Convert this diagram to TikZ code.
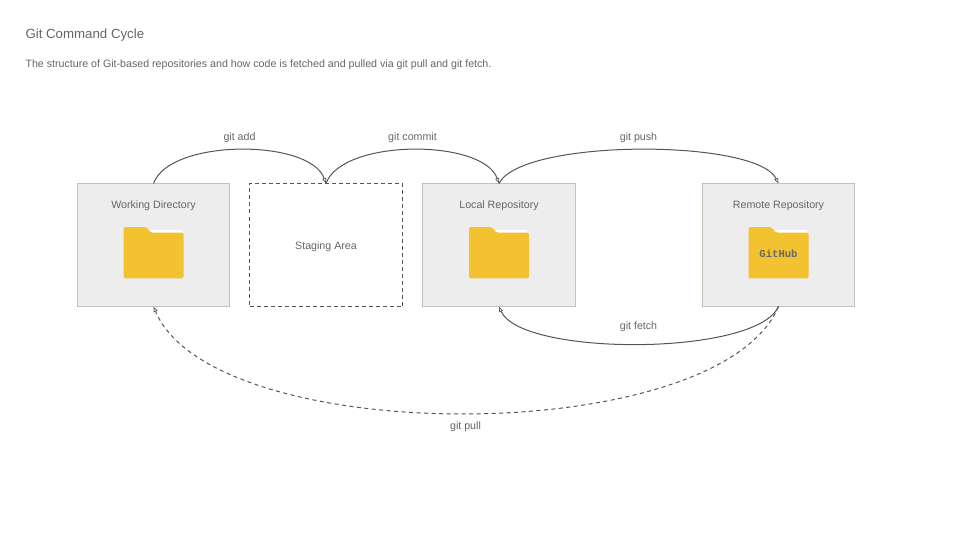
\documentclass[tikz,border=0pt]{standalone}
\usepackage{fontspec}
\setmainfont{Liberation Sans}
\setmonofont{Liberation Mono}
\usetikzlibrary{arrows.meta}
\definecolor{txt}{HTML}{666666}
\definecolor{boxfill}{HTML}{EDEDED}
\definecolor{boxline}{HTML}{C4C1B9}
\definecolor{folder}{HTML}{F2C230}
\definecolor{conn}{HTML}{555555}
\tikzset{
  x=1pt,y=-1pt,
  every node/.style={inner sep=0pt,outer sep=0pt,text=txt,font=\fontsize{10.65}{12}\selectfont},
  repo/.style={draw=boxline,fill=boxfill,line width=1.1pt,minimum height=123pt,anchor=north west},
  stage/.style={draw=conn,dash pattern=on 4pt off 3pt,line width=1pt,minimum width=153pt,minimum height=123pt,anchor=north west},
  cmd/.style={anchor=center},
  boxlabel/.style={anchor=center},
  link/.style={draw=conn,line width=1pt,-{Triangle[open,length=5.5pt,width=4pt,line width=.7pt]}},
  dashedlink/.style={link,dash pattern=on 4pt off 3.5pt},
  folderbody/.style={fill=folder,rounded corners=1.5pt},
}
\newcommand{\folderat}[2]{%
  \begin{scope}[shift={(#1,#2)}]
    \fill[white] (26,2.5) rectangle (58,7);
    \fill[folderbody] (0,0) -- (22.5,0) -- (27.5,5.7) -- (60,5.7) -- (60,51.3) -- (0,51.3) -- cycle;
  \end{scope}}
\begin{document}
\begin{tikzpicture}
\useasboundingbox[fill=white] (0,0) rectangle (960,540);
\node[anchor=west,font=\fontsize{13.27}{15}\selectfont] (title) at (25.5,35) {Git Command Cycle};
\node[anchor=west] (sub) at (25.5,64.5) {The structure of Git-based repositories and how code is fetched and pulled via git pull and git fetch.};
\node[repo,minimum width=152pt] (wd) at (77.5,183.5) {};
\node[stage] (sa) at (249.5,183.5) {};
\node[repo,minimum width=153pt] (lr) at (422.5,183.5) {};
\node[repo,minimum width=152pt] (rr) at (702.5,183.5) {};
\node[boxlabel] (wdt) at (153.5,206) {Working Directory};
\node[boxlabel] (sat) at (326,247) {Staging Area};
\node[boxlabel] (lrt) at (499,206) {Local Repository};
\node[boxlabel] (rrt) at (778.5,206) {Remote Repository};
\folderat{123.5}{227}
\folderat{469}{227}
\folderat{748.5}{227}
\node[font=\ttfamily\bfseries\fontsize{10.6}{12}\selectfont] (gh) at (778.5,254) {GitHub};
\node[cmd] (a) at (239.5,138) {git add};
\node[cmd] (c) at (412.5,138) {git commit};
\node[cmd] (p) at (638.5,138) {git push};
\node[cmd] (f) at (638.5,327) {git fetch};
\node[cmd] (l) at (465.5,426.5) {git pull};
\draw[link] (wd.north) .. controls +(16,-45) and +(-16,-45) .. (sa.north);
\draw[link] (sa.north) .. controls +(16,-45) and +(-16,-45) .. (lr.north);
\draw[link] (lr.north) .. controls +(22,-45) and +(-22,-45) .. (rr.north);
\draw[link] (rr.south) .. controls +(-22,50) and +(22,50) .. (lr.south);
\draw[dashedlink] (rr.south) .. controls +(-60,142.5) and +(60,142.5) .. (wd.south);
\end{tikzpicture}
\end{document}
